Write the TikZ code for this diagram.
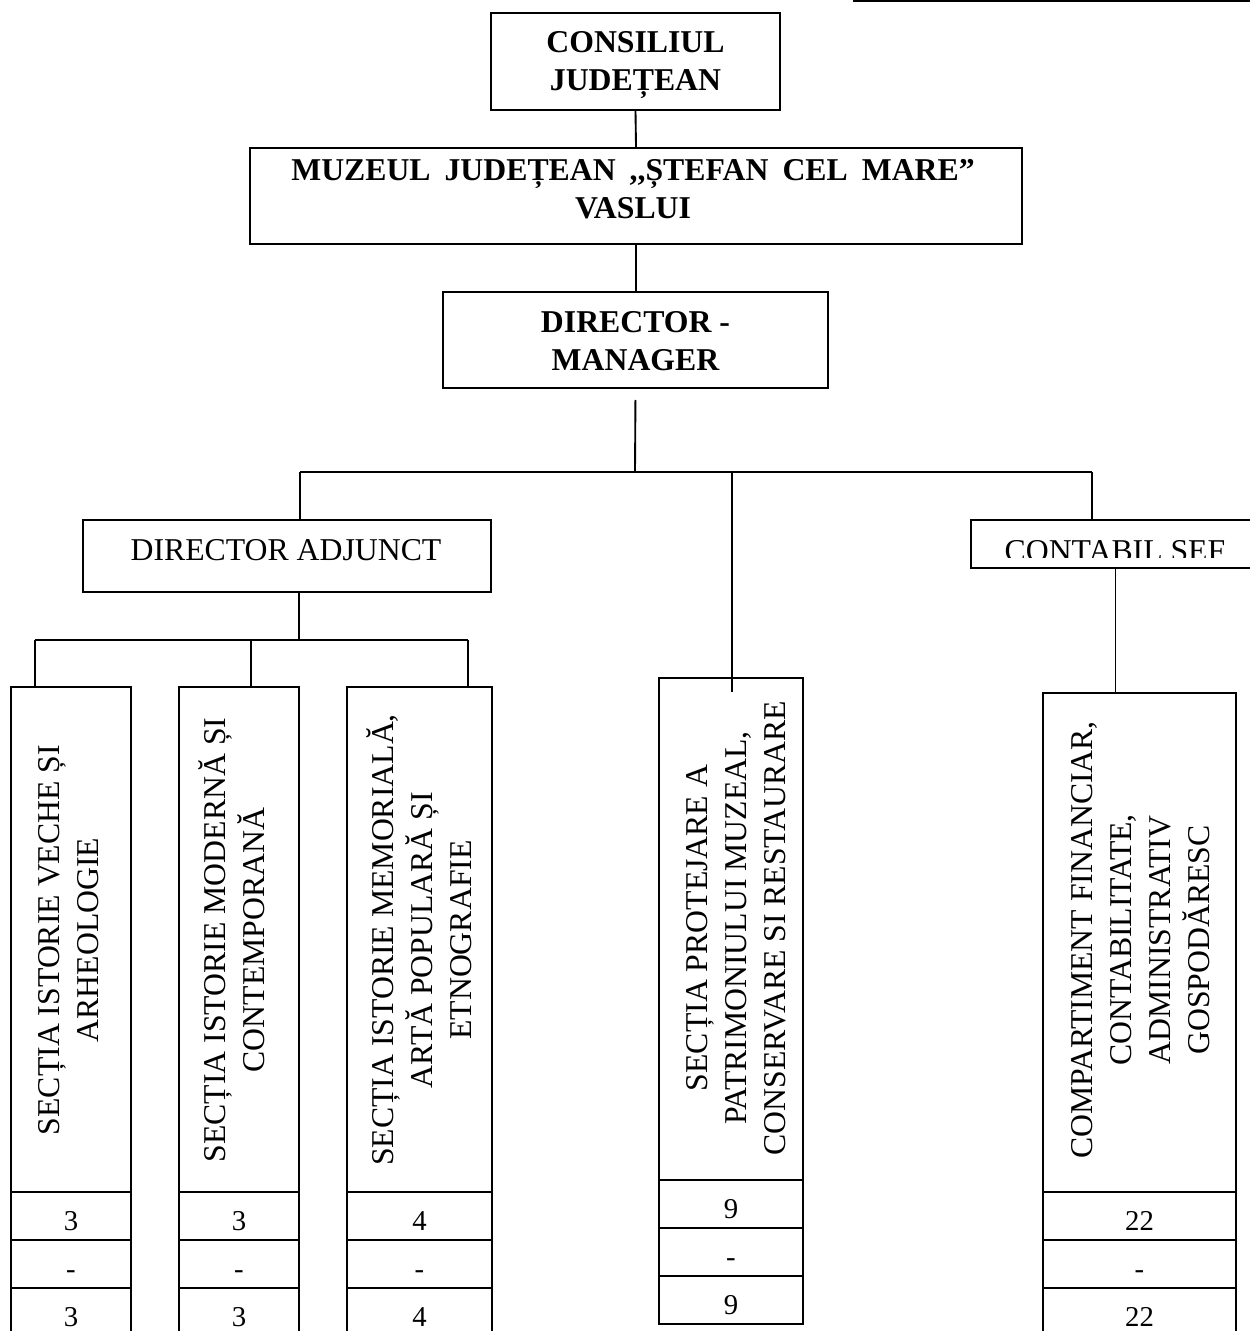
\documentclass[tikz,border=0pt]{standalone}
\usepackage{fontspec}
\setmainfont{Liberation Serif}
\begin{document}
\begin{tikzpicture}[x=0.4pt,y=-0.4pt,
  box/.style={draw, line width=0.8pt, inner sep=0pt, minimum width=#1},
  box/.default=10pt,
  conn/.style={draw, line width=0.75pt},
  ttl/.style={font=\fontsize{12.7}{15.2}\selectfont\bfseries, align=center, inner sep=0pt},
  txt/.style={font=\fontsize{12.7}{15.2}\selectfont, inner sep=0pt},
  vtxt/.style={font=\fontsize{12.7}{15.6}\selectfont, align=center, rotate=90, inner sep=0pt},
  num/.style={font=\fontsize{11.5}{13}\selectfont, anchor=base, inner sep=0pt}]
\useasboundingbox (0,0) rectangle (1250,1331);
\clip (0,0) rectangle (1250,1331);

% top right rule
\draw[line width=1pt] (853,1.2) -- (1250,1.2);

% top boxes
\node[box=289*0.4pt, minimum height=97*0.4pt] (cj) at (635.5,61.5) {};
\node[ttl] (cjt) at (635.5,65) {CONSILIUL\\JUDEȚEAN};
\node[box=772*0.4pt, minimum height=96*0.4pt] (mz) at (636,196) {};
\node[ttl] (mzt) at (633,189) {\spaceskip=5.6pt MUZEUL JUDEȚEAN {,}{,}ȘTEFAN CEL MARE”\\VASLUI};
\node[box=385*0.4pt, minimum height=96*0.4pt] (dm) at (635.5,340) {};
\node[ttl] (dmt) at (635.5,341) {DIRECTOR -\\MANAGER};

% second level
\node[box=408*0.4pt, minimum height=72*0.4pt] (da) at (287,556) {};
\node[txt, anchor=base] (dat) at (286,560) {DIRECTOR ADJUNCT};
\node[box=289*0.4pt, minimum height=48*0.4pt] (cs) at (1115.5,544) {};
\begin{scope}
  \clip (971,520) rectangle (1260,557);
  \node[txt, anchor=base] (cst) at (1115,561) {CONTABIL ȘEF};
\end{scope}

% lower boxes
\node[box=120*0.4pt, minimum height=505*0.4pt] (b1) at (71,939.5) {};
\node[box=120*0.4pt, minimum height=505*0.4pt] (b2) at (239,939.5) {};
\node[box=145*0.4pt, minimum height=505*0.4pt] (b3) at (419.5,939.5) {};
\node[box=144*0.4pt, minimum height=502*0.4pt] (b4) at (731,929) {};
\node[box=193*0.4pt, minimum height=499*0.4pt] (b5) at (1139.5,942.5) {};

\node[vtxt] (b1t) at (69,940) {SECȚIA ISTORIE VECHE ȘI\\ARHEOLOGIE};
\node[vtxt] (b2t) at (232,940) {SECȚIA ISTORIE MODERNĂ ȘI\\CONTEMPORANĂ};
\node[vtxt] (b3t) at (419,940) {SECȚIA ISTORIE MEMORIALĂ,\\ARTĂ POPULARĂ ȘI\\ETNOGRAFIE};
\begin{scope}
  \clip (659,678) rectangle (785,1180);
  \node[vtxt] (b4t) at (739,928) {SECȚIA PROTEJARE A\\PATRIMONIULUI MUZEAL,\\CONSERVARE ȘI RESTAURARE};
\end{scope}
\node[vtxt] (b5t) at (1141,940) {COMPARTIMENT FINANCIAR,\\CONTABILITATE,\\ADMINISTRATIV\\GOSPODĂRESC};

% number cells
\foreach \n/\cx/\w/\top/\a/\c in {1/71/120/1192/3/3, 2/239/120/1192/3/3, 3/419.5/145/1192/4/4, 4/731/144/1180/9/9, 5/1139.5/193/1192/22/22}{
  \node[box=\w*0.4pt, minimum height=48*0.4pt] (c\n a) at (\cx,\top+24) {};
  \node[box=\w*0.4pt, minimum height=48*0.4pt] (c\n b) at (\cx,\top+72) {};
  \node[box=\w*0.4pt, minimum height=48*0.4pt] (c\n c) at (\cx,\top+120) {};
  \node[num] (c\n at) at (\cx,\top+38) {\a};
  \node[num] (c\n bt) at (\cx,\top+86) {-};
  \node[num] (c\n ct) at (\cx,\top+134) {\c};
}

% connectors
\coordinate (j0) at (635,472);
\coordinate (jL) at (300,472);
\coordinate (jC) at (732,472);
\coordinate (jR) at (1092,472);
\coordinate (k0) at (299,640);
\coordinate (kL) at (35,640);
\coordinate (kM) at (251,640);
\coordinate (kR) at (468,640);

\draw[conn] (cj.south) -- (mz.north);
\draw[conn] (mz.south) -- (mz.south |- dm.north);
\draw[conn, shorten <=4.4pt] (dm.south) -- (j0);
\draw[conn] (jL) -- (jR);
\draw[conn] (jL) -- (jL |- da.north);
\draw[conn] (jR) -- (jR |- cs.north);
\draw[conn] (jC) -- (jC |- b5.north);
\draw[conn] (k0 |- da.south) -- (k0);
\draw[conn] (kL) -- (kR);
\draw[conn] (kL) -- (kL |- b1.north);
\draw[conn] (kM) -- (kM |- b2.north);
\draw[conn] (kR) -- (kR |- b3.north);
\draw[conn] (cs.south) -- (cs.south |- b5.north);
\end{tikzpicture}
\end{document}
